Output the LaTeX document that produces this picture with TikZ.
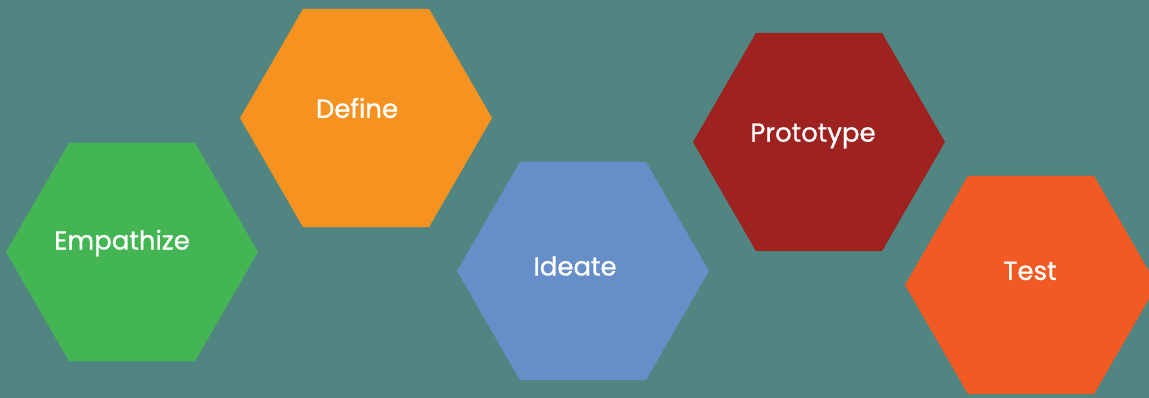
\documentclass[tikz,border=0pt]{standalone}
\usepackage{fontspec}
\setmainfont{Poppins}
\newfontfamily\lblfont{Poppins}[FakeBold=0.8]
\usetikzlibrary{shapes.geometric}
\definecolor{bg}{HTML}{508582}
\definecolor{cgreen}{HTML}{44B553}
\definecolor{corange}{HTML}{F6921F}
\definecolor{cblue}{HTML}{668EC8}
\definecolor{cred}{HTML}{9E2220}
\definecolor{cred2}{HTML}{F15A22}
\tikzset{
  hex/.style={regular polygon, regular polygon sides=6, minimum size=252pt, inner sep=0pt, outer sep=0pt, draw=none},
  lbl/.style={text=white, font=\lblfont\fontsize{26}{30}\selectfont, inner sep=0pt}
}
\begin{document}
\begin{tikzpicture}[x=1pt,y=-1pt]
\fill[bg] (0,0) rectangle (1149,398);
\useasboundingbox (0,0) rectangle (1149,398);
\node[hex, fill=cgreen] (emp) at (132,252) {};
\node[hex, fill=corange] (def) at (366,118) {};
\node[hex, fill=cblue] (ide) at (583,271) {};
\node[hex, fill=cred] (pro) at (819,142) {};
\node[hex, fill=cred2] (tst) at (1031,285) {};
\node[lbl] (empl) at (122,243) {Empathize};
\node[lbl] (defl) at (357,108) {Define};
\node[lbl] (idel) at (575,266) {Ideate};
\node[lbl] (prol) at (813,136) {Prototype};
\node[lbl] (tstl) at (1030,271) {Test};
\end{tikzpicture}
\end{document}
